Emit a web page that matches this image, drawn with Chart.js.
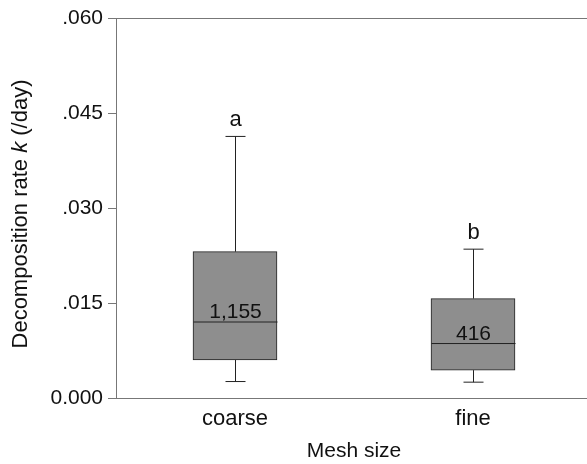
<!DOCTYPE html>
<html>
<head>
<meta charset="utf-8">
<script src="https://cdn.jsdelivr.net/npm/chart.js@4"></script>
<style>
  html, body { margin: 0; padding: 0; overflow: hidden; background: #fff; }
  #wrap { width: 600px; height: 464px; }
</style>
</head>
<body>
<div id="wrap"><canvas id="chart"></canvas></div>
<script>
var categories = ['coarse', 'fine'];
var whiskerLow = [0.0026, 0.0025];
var q1 = [0.0060, 0.0044];
var median = [0.0120, 0.0086];
var q3 = [0.0231, 0.0157];
var whiskerHigh = [0.0413, 0.0235];
var countLabels = ['1,155', '416'];
var groupLetters = ['a', 'b'];
var yTicks = [0, 0.015, 0.030, 0.045, 0.060];

var font = 'Liberation Sans, Arial, sans-serif';
var axisColor = '#777';

// whiskers, medians and text on top of the floating bars
var boxExtras = {
    id: 'boxExtras',
    afterDatasetsDraw: function(chart) {
        var ctx = chart.ctx;
        var x = chart.scales.x, y = chart.scales.y;
        ctx.save();
        ctx.strokeStyle = '#222';
        ctx.lineWidth = 1;
        categories.forEach(function(c, i) {
            var cx = Math.round(x.getPixelForValue(i)) + 0.5;
            var bar = chart.getDatasetMeta(0).data[i];
            var half = bar.width / 2;
            var top = y.getPixelForValue(q3[i]);
            var bot = y.getPixelForValue(q1[i]);
            var hi = y.getPixelForValue(whiskerHigh[i]);
            var lo = y.getPixelForValue(whiskerLow[i]);
            var med = y.getPixelForValue(median[i]);
            ctx.beginPath();
            ctx.moveTo(cx, top); ctx.lineTo(cx, hi);
            ctx.moveTo(cx - 10, hi); ctx.lineTo(cx + 10, hi);
            ctx.moveTo(cx, bot); ctx.lineTo(cx, lo);
            ctx.moveTo(cx - 10, lo); ctx.lineTo(cx + 10, lo);
            ctx.moveTo(cx - half, med); ctx.lineTo(cx + half, med);
            ctx.stroke();
            ctx.fillStyle = '#111';
            ctx.font = '21px ' + font;
            ctx.textAlign = 'center';
            ctx.textBaseline = 'alphabetic';
            ctx.fillText(countLabels[i], cx, med - 4);
            ctx.font = '22px ' + font;
            ctx.fillText(groupLetters[i], cx, hi - 10);
        });
        ctx.restore();
    },
    afterDraw: function(chart) {
        var ctx = chart.ctx, a = chart.chartArea;
        ctx.save();
        // top frame line
        ctx.strokeStyle = axisColor;
        ctx.lineWidth = 1;
        ctx.beginPath();
        ctx.moveTo(a.left, Math.round(a.top) + 0.5);
        ctx.lineTo(a.right, Math.round(a.top) + 0.5);
        ctx.stroke();
        // y title with italic k
        ctx.translate(27, 214);
        ctx.rotate(-Math.PI / 2);
        ctx.fillStyle = '#111';
        ctx.textBaseline = 'alphabetic';
        ctx.textAlign = 'left';
        var p1 = 'Decomposition rate ', p2 = 'k', p3 = ' (/day)';
        var f = '22px ' + font, fi = 'italic 22px ' + font;
        ctx.font = f;
        var w1 = ctx.measureText(p1).width, w3 = ctx.measureText(p3).width;
        ctx.font = fi;
        var w2 = ctx.measureText(p2).width;
        var sx = -(w1 + w2 + w3) / 2;
        ctx.font = f;
        ctx.fillText(p1, sx, 0);
        ctx.font = fi;
        ctx.fillText(p2, sx + w1, 0);
        ctx.font = f;
        ctx.fillText(p3, sx + w1 + w2, 0);
        ctx.restore();
    }
};

new Chart(document.getElementById('chart'), {
    type: 'bar',
    data: {
        labels: categories,
        datasets: [{
            data: categories.map(function(c, i) { return [q1[i], q3[i]]; }),
            backgroundColor: '#8e8e8e',
            borderColor: '#222',
            borderWidth: 1,
            borderSkipped: false,
            barThickness: 84
        }]
    },
    options: {
        responsive: true,
        maintainAspectRatio: false,
        animation: false,
        layout: { padding: { top: 18, left: 0, right: 8, bottom: 0 } },
        plugins: { legend: { display: false }, tooltip: { enabled: false } },
        scales: {
            x: {
                grid: { display: false, drawOnChartArea: false },
                border: { color: axisColor },
                ticks: { color: '#111', font: { family: font, size: 22 }, padding: 0 },
                title: { display: true, text: 'Mesh size', color: '#111', font: { family: font, size: 21 }, padding: { top: 6, bottom: 0 } },
                afterFit: function(s) { s.height = 66; }
            },
            y: {
                min: 0,
                max: 0.06,
                afterBuildTicks: function(s) { s.ticks = yTicks.map(function(v) { return { value: v }; }); },
                grid: { drawOnChartArea: false, tickLength: 8, color: axisColor },
                border: { color: axisColor },
                ticks: {
                    color: '#111',
                    font: { family: font, size: 21 },
                    padding: 5,
                    callback: function(v) { return v === 0 ? '0.000' : v.toFixed(3).replace(/^0/, ''); }
                },
                afterFit: function(s) { s.width = 116; }
            }
        }
    },
    plugins: [boxExtras]
});
</script>
</body>
</html>
